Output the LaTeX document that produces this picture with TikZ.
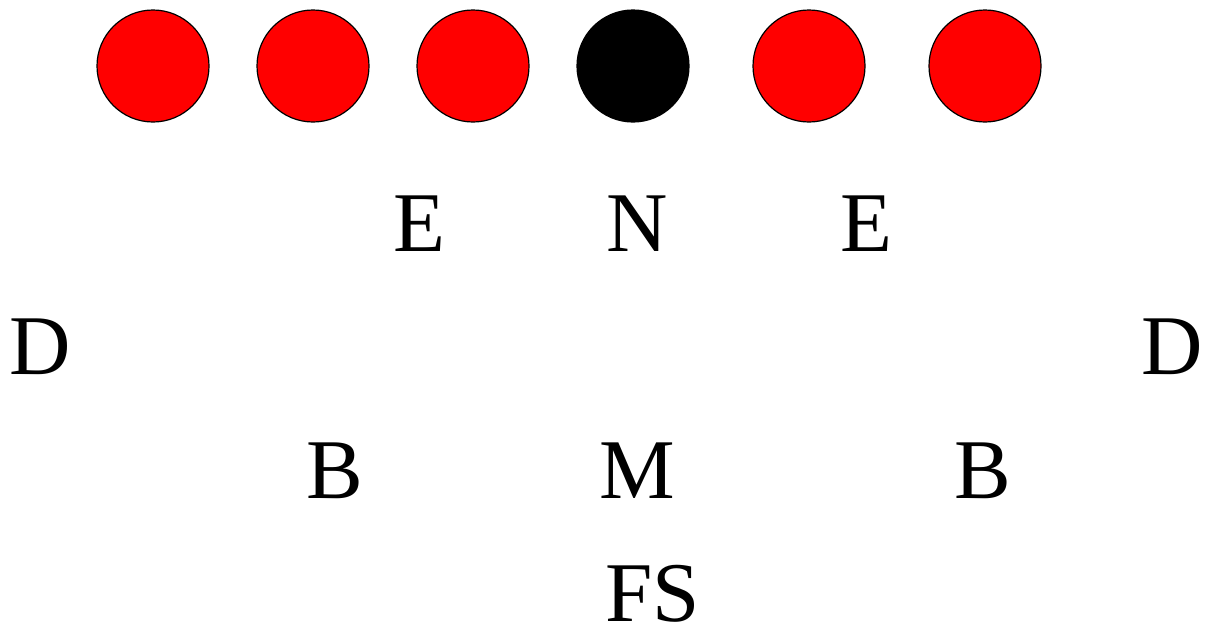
\documentclass[tikz,border=0pt]{standalone}
\usepackage{fontspec}
\setmainfont{Liberation Serif}
\begin{document}
\begin{tikzpicture}[x=1pt,y=-1pt,
  player/.style={circle,draw=black,line width=1.2pt,minimum size=112pt,inner sep=0pt,fill=red},
  centerplayer/.style={player,fill=black},
  poslabel/.style={inner sep=0pt,font=\fontsize{85}{85}\selectfont}]
\useasboundingbox (0,0) rectangle (1206,630);
\node[player] (o1) at (153,66) {};
\node[player] (o2) at (313,66) {};
\node[player] (o3) at (473,66) {};
\node[centerplayer] (c) at (633,66) {};
\node[player] (o4) at (809,66) {};
\node[player] (o5) at (985,66) {};
\node[poslabel] (e1) at (419,224) {E};
\node[poslabel] (n) at (637,224) {N};
\node[poslabel] (e2) at (866,224) {E};
\node[poslabel] (d1) at (40,347) {D};
\node[poslabel] (d2) at (1172,347) {D};
\node[poslabel] (b1) at (335,471) {B};
\node[poslabel] (m) at (637,471) {M};
\node[poslabel] (b2) at (983,471) {B};
\node[poslabel] (fs) at (653,594) {FS};
\end{tikzpicture}
\end{document}
